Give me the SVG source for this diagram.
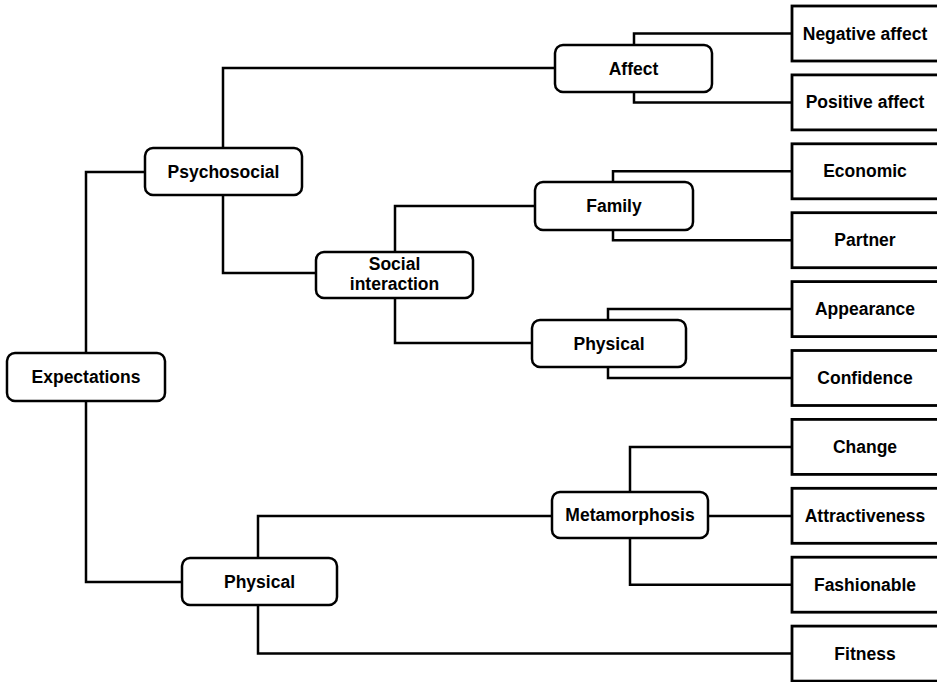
<svg xmlns="http://www.w3.org/2000/svg" width="937" height="682" viewBox="0 0 937 682">
<style>
.n rect{fill:#fff;stroke:#000;stroke-width:2.5}
.r rect{fill:#fff;stroke:#000;stroke-width:2.8}
text{font-family:"Liberation Sans",Arial,sans-serif;font-weight:bold;font-size:17.5px;fill:#000;text-anchor:middle}
#connectors path{fill:none;stroke:#000;stroke-width:2.5}
</style>
<rect width="937" height="682" fill="#fff"/>
<g id="connectors">
<path d="M86,353 V172 H145"/>
<path d="M86,401 V582 H182"/>
<path d="M223,148 V68 H555"/>
<path d="M223,195 V273 H316"/>
<path d="M634,45 V33.5 H792"/>
<path d="M634,92 V102.4 H792"/>
<path d="M395,252 V206 H535"/>
<path d="M395,298 V343 H532"/>
<path d="M613,182 V171.3 H792"/>
<path d="M613,230 V240.2 H792"/>
<path d="M608,320 V309.1 H792"/>
<path d="M608,367 V378 H792"/>
<path d="M630,492 V446.9 H792"/>
<path d="M708,516 H792"/>
<path d="M630,538 V584.7 H792"/>
<path d="M258,558 V516 H552"/>
<path d="M258,605 V653.6 H792"/>
</g>
<g id="expectations" class="n"><rect x="7" y="353" width="158" height="48" rx="8"/><text x="86" y="383">Expectations</text></g>
<g id="psychosocial" class="n"><rect x="145" y="148" width="157" height="47" rx="8"/><text x="223.5" y="178">Psychosocial</text></g>
<g id="social-interaction" class="n"><rect x="316" y="252" width="157" height="46" rx="8"/><text x="394.5" y="270">Social</text><text x="394.5" y="290">interaction</text></g>
<g id="affect" class="n"><rect x="555" y="45" width="157" height="47" rx="8"/><text x="633.5" y="74.5">Affect</text></g>
<g id="family" class="n"><rect x="535" y="182" width="158" height="48" rx="8"/><text x="614" y="212">Family</text></g>
<g id="physical-social" class="n"><rect x="532" y="320" width="154" height="47" rx="8"/><text x="609" y="349.5">Physical</text></g>
<g id="metamorphosis" class="n"><rect x="552" y="492" width="156" height="46" rx="8"/><text x="630" y="521">Metamorphosis</text></g>
<g id="physical" class="n"><rect x="182" y="558" width="155" height="47" rx="8"/><text x="259.5" y="587.5">Physical</text></g>
<g id="negative-affect" class="r"><rect x="792" y="6" width="155" height="55"/><text x="865" y="39.5">Negative affect</text></g>
<g id="positive-affect" class="r"><rect x="792" y="74.9" width="155" height="55"/><text x="865" y="108.4">Positive affect</text></g>
<g id="economic" class="r"><rect x="792" y="143.8" width="155" height="55"/><text x="865" y="177.3">Economic</text></g>
<g id="partner" class="r"><rect x="792" y="212.7" width="155" height="55"/><text x="865" y="246.2">Partner</text></g>
<g id="appearance" class="r"><rect x="792" y="281.6" width="155" height="55"/><text x="865" y="315.1">Appearance</text></g>
<g id="confidence" class="r"><rect x="792" y="350.5" width="155" height="55"/><text x="865" y="384">Confidence</text></g>
<g id="change" class="r"><rect x="792" y="419.4" width="155" height="55"/><text x="865" y="452.9">Change</text></g>
<g id="attractiveness" class="r"><rect x="792" y="488.3" width="155" height="55"/><text x="865" y="521.8">Attractiveness</text></g>
<g id="fashionable" class="r"><rect x="792" y="557.2" width="155" height="55"/><text x="865" y="590.7">Fashionable</text></g>
<g id="fitness" class="r"><rect x="792" y="626.1" width="155" height="55"/><text x="865" y="659.6">Fitness</text></g>
</svg>
